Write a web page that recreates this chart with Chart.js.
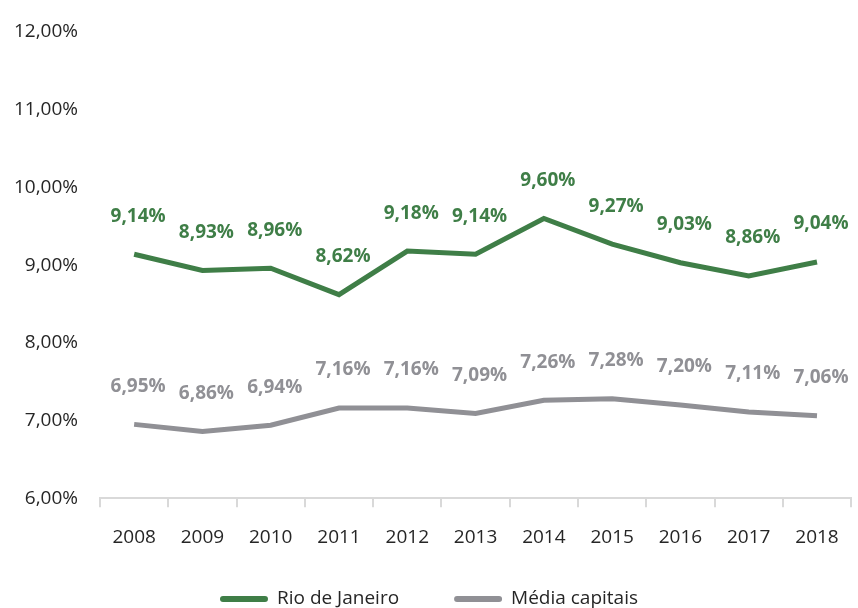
<!DOCTYPE html>
<html lang="pt">
<head>
    <meta charset="UTF-8" />
    <title>Rio de Janeiro x Média capitais</title>
    <style>
        html, body { margin: 0; padding: 0; background: #fff; }
        .chart-container { width: 858px; height: 608px; }
    </style>
</head>
<body>
    <div class="chart-container">
        <canvas id="taxaChart"></canvas>
    </div>

    <script src="https://cdn.jsdelivr.net/npm/chart.js"></script>
    <script>
        const anos = ['2008', '2009', '2010', '2011', '2012', '2013', '2014', '2015', '2016', '2017', '2018'];
        const rioDeJaneiro = [9.14, 8.93, 8.96, 8.62, 9.18, 9.14, 9.60, 9.27, 9.03, 8.86, 9.04];
        const mediaCapitais = [6.95, 6.86, 6.94, 7.16, 7.16, 7.09, 7.26, 7.28, 7.20, 7.11, 7.06];

        const verde = '#3f7e47';
        const cinza = '#909095';
        const texto = '#262626';
        const fonte = "'Open Sans', 'Noto Sans', sans-serif";

        const fmt = v => v.toFixed(2).replace('.', ',') + '%';

        // Writes the value above each point, same colour as its line
        const rotulos = {
            id: 'rotulos',
            afterDatasetsDraw(chart) {
                const ctx = chart.ctx;
                ctx.save();
                ctx.font = 'bold 19px ' + fonte;
                ctx.textAlign = 'center';
                ctx.textBaseline = 'middle';
                chart.data.datasets.forEach((ds, i) => {
                    const meta = chart.getDatasetMeta(i);
                    ctx.fillStyle = ds.borderColor;
                    meta.data.forEach((pt, j) => {
                        ctx.fillText(fmt(ds.data[j]), pt.x + 4, pt.y - 38);
                    });
                });
                ctx.restore();
            }
        };

        // Legend at the bottom, wide gap between the two entries
        const legenda = {
            id: 'legenda',
            afterDraw(chart) {
                const ctx = chart.ctx;
                const y = chart.height - 9;
                const sw = 48, gap = 9, entre = 55;
                ctx.save();
                ctx.font = '19px ' + fonte;
                ctx.textBaseline = 'middle';
                const itens = chart.data.datasets.map(ds => ({
                    cor: ds.borderColor,
                    nome: ds.label,
                    w: sw + gap + ctx.measureText(ds.label).width
                }));
                const total = itens.reduce((s, it) => s + it.w, 0) + entre * (itens.length - 1);
                let x = (chart.width - total) / 2;
                itens.forEach(it => {
                    ctx.strokeStyle = it.cor;
                    ctx.lineWidth = 6;
                    ctx.lineCap = 'round';
                    ctx.beginPath();
                    ctx.moveTo(x + 3, y);
                    ctx.lineTo(x + sw - 3, y);
                    ctx.stroke();
                    ctx.fillStyle = texto;
                    ctx.fillText(it.nome, x + sw + gap, y);
                    x += it.w + entre;
                });
                ctx.restore();
            }
        };

        new Chart(document.getElementById('taxaChart'), {
            type: 'line',
            data: {
                labels: anos,
                datasets: [
                    {
                        label: 'Rio de Janeiro',
                        data: rioDeJaneiro,
                        borderColor: verde,
                        backgroundColor: verde,
                        borderWidth: 5,
                        pointRadius: 0,
                        tension: 0
                    },
                    {
                        label: 'Média capitais',
                        data: mediaCapitais,
                        borderColor: cinza,
                        backgroundColor: cinza,
                        borderWidth: 5,
                        pointRadius: 0,
                        tension: 0
                    }
                ]
            },
            options: {
                responsive: true,
                maintainAspectRatio: false,
                animation: false,
                layout: { padding: { top: 32, right: 6, left: 0, bottom: 40 } },
                plugins: {
                    tooltip: { enabled: false },
                    legend: { display: false }
                },
                scales: {
                    x: {
                        offset: true,
                        grid: {
                            offset: true,
                            drawOnChartArea: false,
                            tickLength: 9,
                            color: '#d9d9d9',
                            lineWidth: 2
                        },
                        border: { color: '#d9d9d9', width: 2 },
                        ticks: {
                            color: texto,
                            padding: 19,
                            font: { family: fonte, size: 19 }
                        }
                    },
                    y: {
                        min: 6,
                        max: 12,
                        afterFit(scale) { scale.width = 100; },
                        grid: { display: false },
                        border: { display: false },
                        ticks: {
                            stepSize: 1,
                            color: texto,
                            padding: 14,
                            font: { family: fonte, size: 19 },
                            callback: v => fmt(v)
                        }
                    }
                }
            },
            plugins: [rotulos, legenda]
        });
    </script>
</body>
</html>
